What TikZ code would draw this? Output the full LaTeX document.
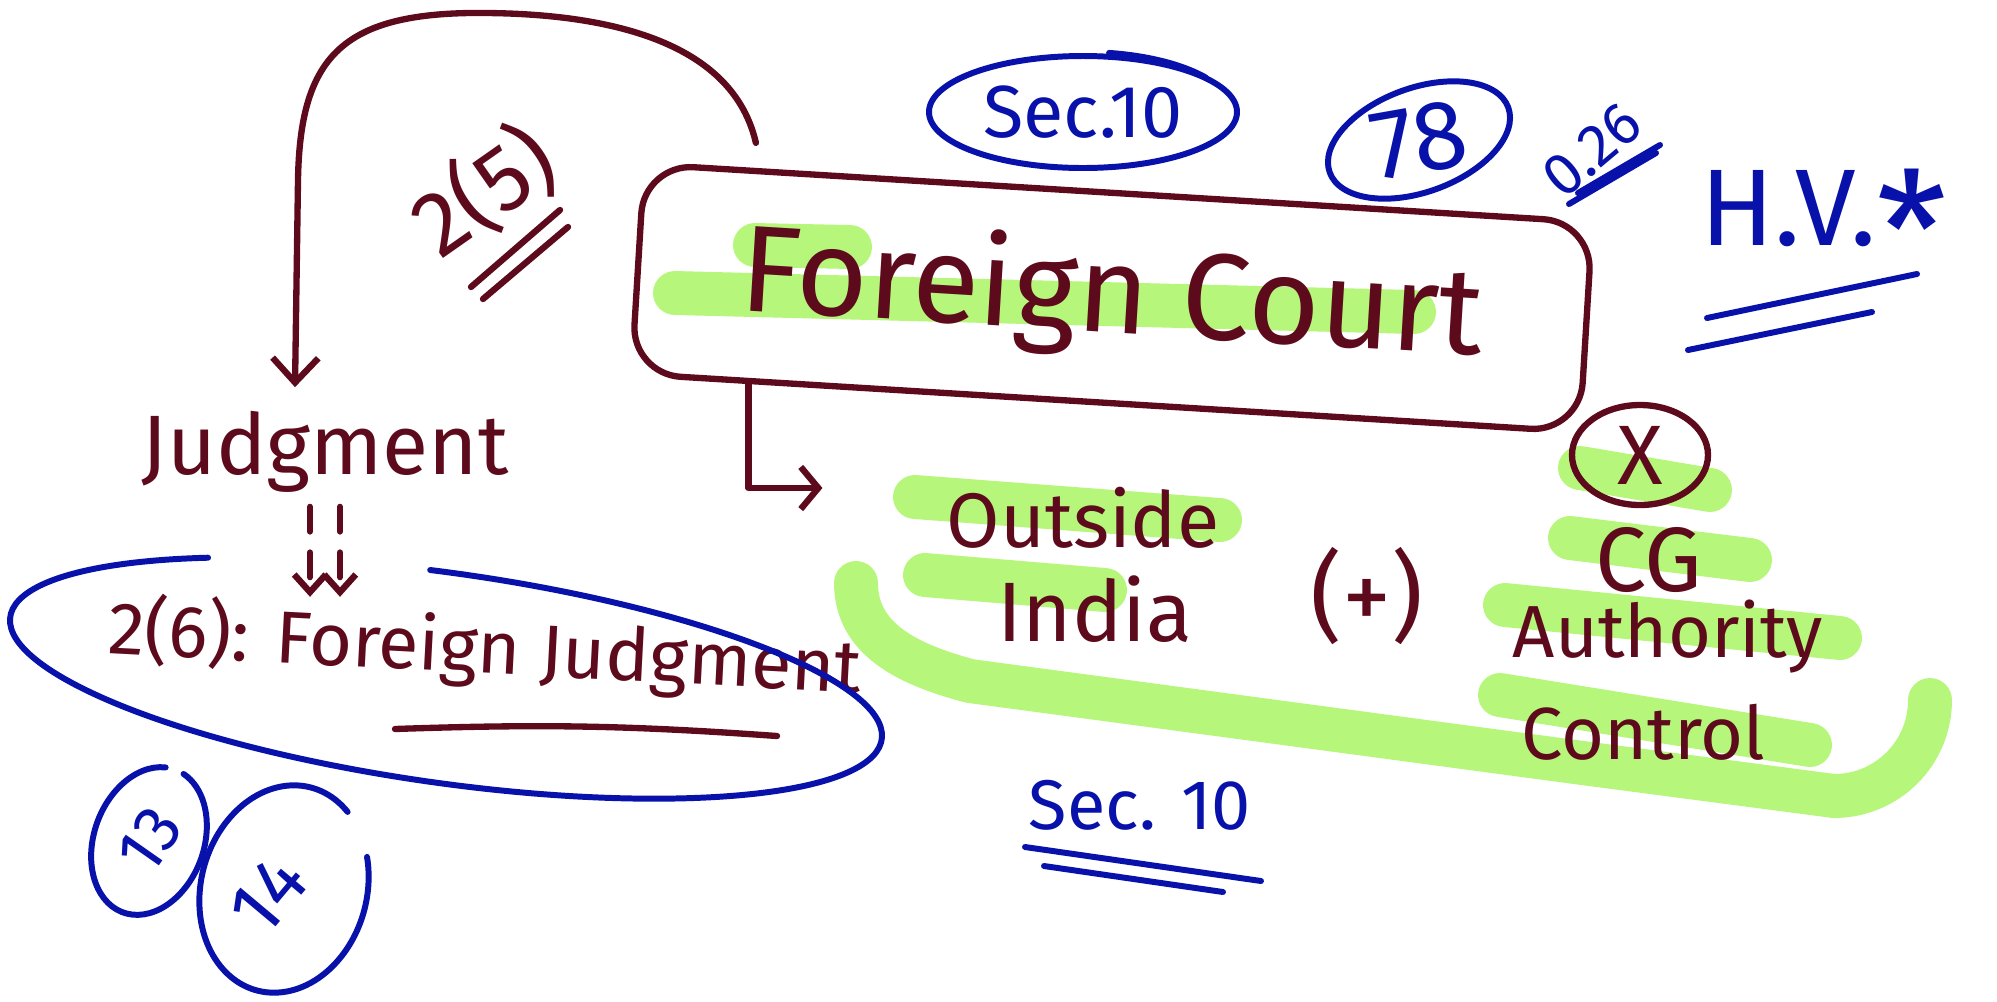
\documentclass[tikz,border=0pt]{standalone}
\usepackage{fontspec}
\setmainfont{Fira Sans}
\usetikzlibrary{arrows.meta,calc}

\definecolor{marrone}{RGB}{92,10,28}
\definecolor{blu}{RGB}{8,18,170}
\definecolor{verde}{RGB}{182,246,122}

\begin{document}
\begin{tikzpicture}[line cap=round, line join=round,
    penna/.style={draw=marrone, line width=1.8pt},
    pennablu/.style={draw=blu, line width=1.7pt},
    evid/.style={draw=verde, line width=12.5pt},
    scritta/.style={text=marrone, inner sep=1pt},
    scrittablu/.style={text=blu, inner sep=1pt}]

    \useasboundingbox (0,0) rectangle (19.97,-10.01);

    % Definizione del comando \evidenzia (tratto di evidenziatore)
    \def\evidenzia#1#2{\draw[evid] #1 -- #2;}
    % Doppia sottolineatura blu con 4 argomenti
    \def\doppia#1#2#3#4{%
        \draw[pennablu] #1 -- #2;%
        \draw[pennablu] #3 -- #4;%
    }

    % -- Evidenziatore verde --
    \evidenzia{(6.75,-2.93)}{(14.14,-3.12)}
    \evidenzia{(7.55,-2.45)}{(8.5,-2.47)}
    \evidenzia{(9.15,-4.97)}{(12.2,-5.2)}
    \evidenzia{(9.25,-5.75)}{(11.05,-5.9)}
    \evidenzia{(15.8,-4.68)}{(17.1,-4.9)}
    \evidenzia{(15.7,-5.38)}{(17.5,-5.6)}
    \evidenzia{(15.05,-6.05)}{(18.4,-6.38)}
    \evidenzia{(15.0,-6.95)}{(18.1,-7.45)}
    \draw[evid] (8.56,-5.83) to[out=-90, in=165] (9.7,-6.81)
                -- (15.9,-7.64) -- (18.34,-7.96)
                to[out=0, in=-90] (19.3,-7.0);

    % -- Riquadro: Foreign Court --
    \node[scritta, draw=marrone, line width=1.8pt, rounded corners=14pt,
          rotate=-3.5, minimum width=9.5cm, minimum height=2.1cm,
          font=\fontsize{35}{40}\selectfont] (corte) at (11.12,-2.98) {Foreign Court};

    % -- Parte Sinistra: Judgment e 2(6) --
    \node[scritta, font=\fontsize{24}{28}\selectfont] (giud) at (3.25,-4.52) {Judgment};
    \node[scritta, rotate=-3, font=\fontsize{21}{25}\selectfont] (fj) at (4.85,-6.5) {2(6): Foreign Judgment};

    % arco da Foreign Court a Judgment
    \draw[penna, -{Straight Barb[length=7pt, width=13pt]}]
        ($(corte.north west)!0.12!(corte.north east)+(0,0.25)$)
        .. controls (7.3,-0.3) and (5.8,-0.12) .. (4.7,-0.13)
        .. controls (3.4,-0.15) and (3.0,-0.6) .. (2.98,-1.8)
        -- ([xshift=-3mm, yshift=2mm]giud.north);

    % 2(5) con doppio tratto
    \node[scritta, rotate=35, font=\fontsize{26}{30}\selectfont] (art25) at (4.84,-1.91) {2(5)};
    \draw[penna] (4.71,-2.87) -- (5.6,-2.1);
    \draw[penna] (4.83,-2.99) -- (5.68,-2.27);

    % freccia tratteggiata doppia
    \draw[penna, dash pattern=on 7pt off 6pt, -{Straight Barb[length=5pt, width=9pt]},
          shorten <=1mm, shorten >=1mm]
        ([xshift=-1.5mm]giud.south) -- ([xshift=-1.5mm]giud.south |- fj.north);
    \draw[penna, dash pattern=on 7pt off 6pt, -{Straight Barb[length=5pt, width=9pt]},
          shorten <=1mm, shorten >=1mm]
        ([xshift=1.5mm]giud.south) -- ([xshift=1.5mm]giud.south |- fj.north);

    % ellisse blu con apertura in alto
    \draw[pennablu, shift={(4.46,-6.78)}, rotate=-8]
        (125:4.4 and 1.05) arc[start angle=125, end angle=454, x radius=4.4, y radius=1.05];
    \draw[penna] (3.95,-7.29) to[bend left=3] (7.77,-7.36);

    % 13 e 14
    \node[scrittablu, rotate=55, font=\fontsize{19}{22}\selectfont] (tredici) at (1.5,-8.4) {13};
    \node[scrittablu, rotate=50, font=\fontsize{22}{26}\selectfont] (quattordici) at (2.68,-8.95) {14};
    \draw[pennablu, shift={(1.49,-8.41)}, rotate=-20]
        (100:0.55 and 0.76) arc[start angle=100, end angle=440, x radius=0.55, y radius=0.76];
    \draw[pennablu, shift={(2.84,-8.89)}, rotate=-15]
        (60:0.83 and 1.05) arc[start angle=60, end angle=390, x radius=0.83, y radius=1.05];

    % -- Parte Destra: Outside India (+) CG Authority Control --
    \node[scritta, font=\fontsize{22}{26}\selectfont] (fuori) at (10.83,-5.18) {Outside};
    \node[scritta, font=\fontsize{24}{28}\selectfont] (india) at (10.95,-6.09) {India};
    \node[scritta, font=\fontsize{28}{32}\selectfont] (piu) at (13.67,-5.96) {(+)};
    \node[scritta, font=\fontsize{24}{28}\selectfont] (ics) at (16.4,-4.55) {X};
    \draw[penna] (ics) ellipse [x radius=0.68, y radius=0.5];
    \node[scritta, font=\fontsize{26}{30}\selectfont] (cg) at (16.49,-5.6) {CG};
    \node[scritta, font=\fontsize{21}{25}\selectfont] (auto) at (16.68,-6.37) {Authority};
    \node[scritta, font=\fontsize{21}{25}\selectfont] (contr) at (16.43,-7.32) {Control};

    \draw[penna, -{Straight Barb[length=5pt, width=12pt]}]
        ($(corte.south west)!0.126!(corte.south east)$)
        |- ([xshift=-12mm, yshift=3mm]fuori.west);

    % -- Annotazioni blu in alto --
    \node[scrittablu, font=\fontsize{21}{25}\selectfont] (sec) at (10.83,-1.12) {Sec.10};
    \draw[pennablu] (sec) ellipse [x radius=1.54, y radius=0.56];
    \draw[pennablu, shift={(sec)}] (35:1.5 and 0.6) arc[start angle=35, end angle=80, x radius=1.5, y radius=0.6];

    \node[scrittablu, rotate=10, font=\fontsize{28}{32}\selectfont] (sett) at (14.19,-1.4) {78};
    \draw[pennablu, shift={(14.19,-1.4)}, rotate=20] (0,0) ellipse [x radius=0.95, y radius=0.52];

    \node[scrittablu, rotate=40, font=\fontsize{17}{20}\selectfont] (zero) at (15.92,-1.5) {0.26};
    \doppia{(15.69,-2.04)}{(16.56,-1.53)}{(15.78,-1.93)}{(16.6,-1.45)}

    \node[scrittablu, font=\fontsize{31}{36}\selectfont] (hv) at (18.24,-2.29)
        {H.V.\raisebox{-0.75ex}{\fontsize{46}{46}\selectfont *}};
    \doppia{(17.07,-3.18)}{(19.17,-2.74)}{(16.88,-3.5)}{(18.72,-3.12)}

    % -- Sec. 10 in basso --
    \node[scrittablu, font=\fontsize{20}{24}\selectfont] (sec2) at (11.4,-8.05) {Sec. 10};
    \doppia{(10.25,-8.47)}{(12.61,-8.81)}{(10.44,-8.66)}{(12.23,-8.92)}

\end{tikzpicture}
\end{document}
